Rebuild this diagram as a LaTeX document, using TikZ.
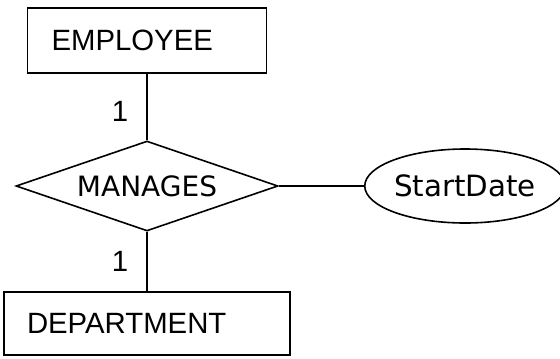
\documentclass[tikz,border=0pt]{standalone}
\usepackage{fontspec}
\setmainfont{Liberation Sans}
\newfontfamily\dejavu{DejaVu Sans}
\usetikzlibrary{shapes.geometric}

\tikzset{every picture/.style={line width=1.2pt}}
\tikzset{
  entity/.style={draw, rectangle, align=left, font=\fontsize{22}{24}\selectfont},
  relation/.style={draw, diamond, aspect=2.9, inner sep=0pt, minimum width=196.5pt, minimum height=67.5pt, font=\dejavu\fontsize{21}{24}\selectfont},
  attrib/.style={draw, ellipse, inner sep=0pt, minimum width=139.5pt, minimum height=55.5pt, font=\dejavu\fontsize{22}{24}\selectfont},
  card/.style={inner sep=0pt, font=\fontsize{22}{24}\selectfont}
}

\begin{document}
\begin{tikzpicture}[x=0.75pt,y=0.75pt,yscale=-1,xscale=1]
	\useasboundingbox (0,0) rectangle (560,358);

	\draw (147,40.5) node [entity, text width=143.25pt, inner xsep=18pt, minimum height=48.75pt] (emp) {EMPLOYEE};
	\draw (147,186) node [relation] (mng) {MANAGES};
	\draw (147,323.5) node [entity, text width=180pt, inner xsep=17.25pt, minimum height=47.25pt] (dept) {DEPARTMENT};
	\draw (465,186) node [attrib] (sdate) {StartDate};

	\draw (emp.south) -- (mng.north) ;
	\draw (mng.south) -- (dept.north) ;
	\draw (mng.east) -- (sdate.west) ;

	\draw (120,111) node [card] (c1) {1};
	\draw (120,261) node [card] (c2) {1};
\end{tikzpicture}
\end{document}
